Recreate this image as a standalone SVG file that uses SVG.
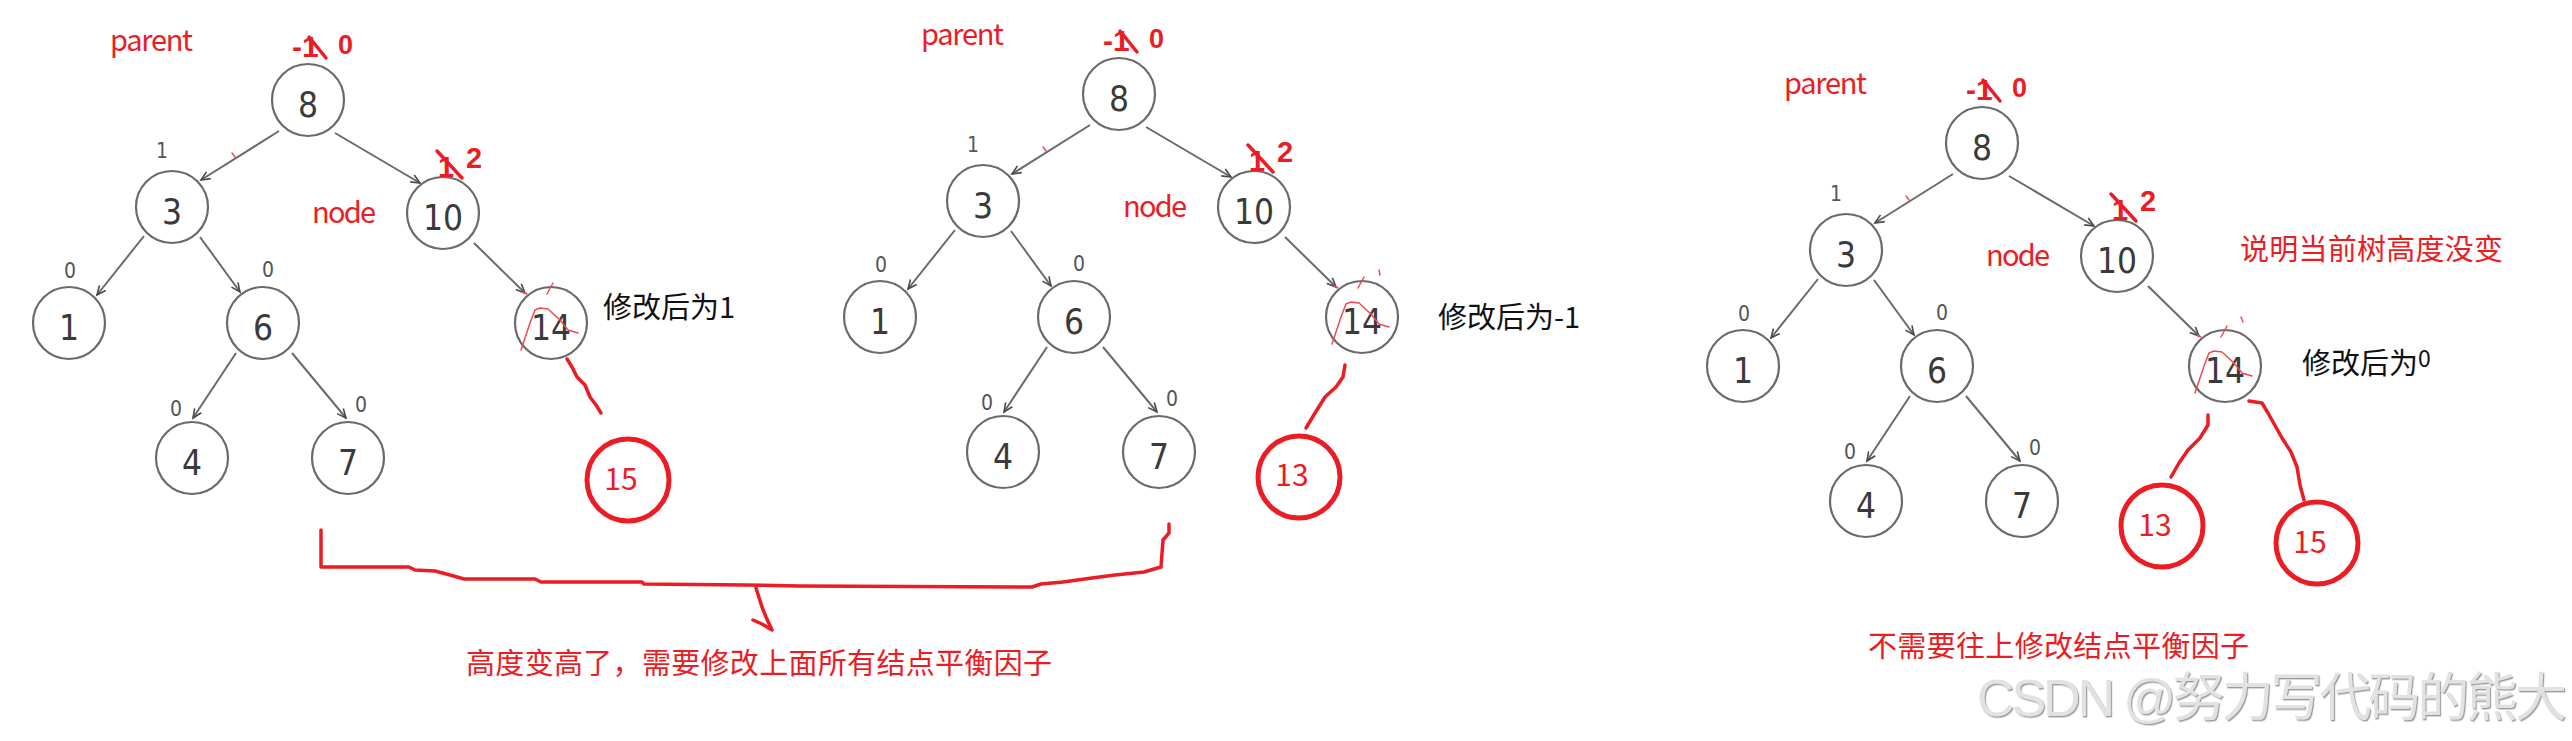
<svg xmlns="http://www.w3.org/2000/svg" width="2572" height="741" viewBox="0 0 2572 741">
<defs>
  <marker id="arr" markerWidth="12" markerHeight="12" refX="10" refY="5" orient="auto" markerUnits="userSpaceOnUse">
    <path d="M1,1 L10,5 L1,9" fill="none" stroke="#4a4a4a" stroke-width="1.6"/>
  </marker>
  <filter id="emb" x="-5%" y="-20%" width="110%" height="140%">
    <feDropShadow dx="1.2" dy="1.4" stdDeviation="0.7" flood-color="#9c9c9c"/>
  </filter>
</defs>
<style>
  .n circle{fill:#fff;stroke:#6a6a6a;stroke-width:2.2}
  .n text.v{font-family:"DejaVu Sans Condensed","DejaVu Sans",sans-serif;font-size:35px;fill:#3a3a3a;text-anchor:middle}
  .bf{font-family:"DejaVu Sans Condensed","DejaVu Sans",sans-serif;font-size:21px;fill:#555;text-anchor:middle}
  .edge{stroke:#6a6a6a;stroke-width:2;fill:none;marker-end:url(#arr)}
  .rn circle{fill:#fff;stroke:#ec1c24;stroke-width:5}
  .rn text{font-family:"Noto Sans CJK SC",sans-serif;font-size:30px;fill:#ec1c24;text-anchor:middle}
  .red{font-family:"Noto Sans CJK SC",sans-serif;fill:#ec1c24;font-size:29px}
  .lbl{font-family:"Noto Sans CJK SC",sans-serif;font-size:29px;fill:#111}
  .ink{fill:none;stroke:#ec1c24;stroke-width:3.5;stroke-linecap:round;stroke-linejoin:round}
  .thin{fill:none;stroke:#f04a50;stroke-width:1.5;stroke-linecap:round;stroke-linejoin:round}
  .hw{font-family:"Liberation Sans",sans-serif;font-weight:bold;fill:#ec1c24}
  .wm{font-family:"Liberation Sans","Noto Sans CJK SC",sans-serif;font-size:52px;fill:#e2e2e2}
</style>

<!-- ===== Tree 1 ===== -->
<g id="tree1">
  <text class="red" x="110" y="51" font-size="27" textLength="83">parent</text>
  <text class="red" x="312" y="223" font-size="27" textLength="64">node</text>
  <g id="t1-edges">
    <path class="edge" d="M279,131 L201,180"/>
    <path class="edge" d="M335,133 L420,183"/>
    <path class="edge" d="M144,236 L97,295"/>
    <path class="edge" d="M200,237 L240,292"/>
    <path class="edge" d="M474,243 L525,293"/>
    <path class="edge" d="M236,353 L193,418"/>
    <path class="edge" d="M292,353 L346,418"/>
  </g>
  <g id="t1-n8" class="n"><circle cx="308" cy="100" r="36"/><text class="v" x="308" y="117">8</text></g>
  <g id="t1-n3" class="n"><circle cx="172" cy="207" r="36"/><text class="v" x="172" y="224">3</text><text class="bf" x="162" y="158">1</text></g>
  <g id="t1-n10" class="n"><circle cx="443" cy="213" r="36"/><text class="v" x="443" y="230">10</text></g>
  <g id="t1-n1" class="n"><circle cx="69" cy="323" r="36"/><text class="v" x="69" y="340">1</text><text class="bf" x="70" y="278">0</text></g>
  <g id="t1-n6" class="n"><circle cx="263" cy="323" r="36"/><text class="v" x="263" y="340">6</text><text class="bf" x="268" y="277">0</text></g>
  <g id="t1-n14" class="n"><circle cx="551" cy="323" r="36"/><text class="v" x="551" y="340">14</text></g>
  <g id="t1-n4" class="n"><circle cx="192" cy="458" r="36"/><text class="v" x="192" y="475">4</text><text class="bf" x="176" y="416">0</text></g>
  <g id="t1-n7" class="n"><circle cx="348" cy="458" r="36"/><text class="v" x="348" y="475">7</text><text class="bf" x="361" y="412">0</text></g>
  <g id="t1-marks">
    <text class="hw" x="292" y="57" font-size="30">-1</text>
    <path class="ink" d="M309,37 L326,58"/>
    <text class="hw" x="338" y="54" font-size="27">0</text>
    <text class="hw" x="438" y="177" font-size="29">1</text>
    <path class="ink" d="M437,151 L462,178"/>
    <text class="hw" x="466" y="168" font-size="29">2</text>
    <path class="thin" d="M232,153 L235,157"/>
    <path class="thin" d="M521,350 L530,323 L535,310 L540,308 L548,309 L560,320 L568,330 L578,333"/>
    <path class="thin" d="M523,292 L527,294 M547,294 L553,283"/>
  </g>
  <path class="ink" d="M567,359 L572,367 L577,377 L585,385 L590,397 L596,405 L601,413"/>
  <g id="t1-n15" class="rn"><circle cx="628" cy="480" r="41"/><text x="621" y="490">15</text></g>
  <text class="lbl" x="603" y="318">修改后为1</text>
</g>

<!-- ===== Tree 2 ===== -->
<g id="tree2" transform="translate(811,-6)">
  <text class="red" x="110" y="51" font-size="27" textLength="83">parent</text>
  <text class="red" x="312" y="223" font-size="27" textLength="64">node</text>
  <g id="t2-edges">
    <path class="edge" d="M279,131 L201,180"/>
    <path class="edge" d="M335,133 L420,183"/>
    <path class="edge" d="M144,236 L97,295"/>
    <path class="edge" d="M200,237 L240,292"/>
    <path class="edge" d="M474,243 L525,293"/>
    <path class="edge" d="M236,353 L193,418"/>
    <path class="edge" d="M292,353 L346,418"/>
  </g>
  <g id="t2-n8" class="n"><circle cx="308" cy="100" r="36"/><text class="v" x="308" y="117">8</text></g>
  <g id="t2-n3" class="n"><circle cx="172" cy="207" r="36"/><text class="v" x="172" y="224">3</text><text class="bf" x="162" y="158">1</text></g>
  <g id="t2-n10" class="n"><circle cx="443" cy="213" r="36"/><text class="v" x="443" y="230">10</text></g>
  <g id="t2-n1" class="n"><circle cx="69" cy="323" r="36"/><text class="v" x="69" y="340">1</text><text class="bf" x="70" y="278">0</text></g>
  <g id="t2-n6" class="n"><circle cx="263" cy="323" r="36"/><text class="v" x="263" y="340">6</text><text class="bf" x="268" y="277">0</text></g>
  <g id="t2-n14" class="n"><circle cx="551" cy="323" r="36"/><text class="v" x="551" y="340">14</text></g>
  <g id="t2-n4" class="n"><circle cx="192" cy="458" r="36"/><text class="v" x="192" y="475">4</text><text class="bf" x="176" y="416">0</text></g>
  <g id="t2-n7" class="n"><circle cx="348" cy="458" r="36"/><text class="v" x="348" y="475">7</text><text class="bf" x="361" y="412">0</text></g>
  <g id="t2-marks">
    <text class="hw" x="292" y="57" font-size="30">-1</text>
    <path class="ink" d="M309,37 L326,58"/>
    <text class="hw" x="338" y="54" font-size="27">0</text>
    <text class="hw" x="438" y="177" font-size="29">1</text>
    <path class="ink" d="M437,151 L462,178"/>
    <text class="hw" x="466" y="168" font-size="29">2</text>
    <path class="thin" d="M232,153 L235,157"/>
    <path class="thin" d="M521,350 L530,323 L535,310 L540,308 L548,309 L560,320 L568,330 L578,333"/>
    <path class="thin" d="M523,292 L527,294 M547,294 L553,283 M568,276 L569,281"/>
  </g>
  <path class="ink" d="M534,371 L532,383 L525,393 L514,403 L504,419 L495,434"/>
  <g id="t2-n13" class="rn"><circle cx="488" cy="483" r="41"/><text x="481" y="492">13</text></g>
  <text class="lbl" x="627" y="334">修改后为-1</text>
</g>

<!-- ===== Tree 3 ===== -->
<g id="tree3" transform="translate(1674,43)">
  <text class="red" x="110" y="51" font-size="27" textLength="83">parent</text>
  <text class="red" x="312" y="223" font-size="27" textLength="64">node</text>
  <g id="t3-edges">
    <path class="edge" d="M279,131 L201,180"/>
    <path class="edge" d="M335,133 L420,183"/>
    <path class="edge" d="M144,236 L97,295"/>
    <path class="edge" d="M200,237 L240,292"/>
    <path class="edge" d="M474,243 L525,293"/>
    <path class="edge" d="M236,353 L193,418"/>
    <path class="edge" d="M292,353 L346,418"/>
  </g>
  <g id="t3-n8" class="n"><circle cx="308" cy="100" r="36"/><text class="v" x="308" y="117">8</text></g>
  <g id="t3-n3" class="n"><circle cx="172" cy="207" r="36"/><text class="v" x="172" y="224">3</text><text class="bf" x="162" y="158">1</text></g>
  <g id="t3-n10" class="n"><circle cx="443" cy="213" r="36"/><text class="v" x="443" y="230">10</text></g>
  <g id="t3-n1" class="n"><circle cx="69" cy="323" r="36"/><text class="v" x="69" y="340">1</text><text class="bf" x="70" y="278">0</text></g>
  <g id="t3-n6" class="n"><circle cx="263" cy="323" r="36"/><text class="v" x="263" y="340">6</text><text class="bf" x="268" y="277">0</text></g>
  <g id="t3-n14" class="n"><circle cx="551" cy="323" r="36"/><text class="v" x="551" y="340">14</text></g>
  <g id="t3-n4" class="n"><circle cx="192" cy="458" r="36"/><text class="v" x="192" y="475">4</text><text class="bf" x="176" y="416">0</text></g>
  <g id="t3-n7" class="n"><circle cx="348" cy="458" r="36"/><text class="v" x="348" y="475">7</text><text class="bf" x="361" y="412">0</text></g>
  <g id="t3-marks">
    <text class="hw" x="292" y="57" font-size="30">-1</text>
    <path class="ink" d="M309,37 L326,58"/>
    <text class="hw" x="338" y="54" font-size="27">0</text>
    <text class="hw" x="438" y="177" font-size="29">1</text>
    <path class="ink" d="M437,151 L462,178"/>
    <text class="hw" x="466" y="168" font-size="29">2</text>
    <path class="thin" d="M232,153 L235,157"/>
    <path class="thin" d="M521,350 L530,323 L535,310 L540,308 L548,309 L560,320 L568,330 L578,333"/>
    <path class="thin" d="M523,292 L527,294 M547,294 L553,283 M567,274 L569,279"/>
  </g>
  <path class="ink" d="M534,372 L534,382 L526,395 L514,407 L505,420 L497,434"/>
  <path class="ink" d="M575,358 L588,360 L594,370 L608,395 L617,409 L623,424 L626,442 L630,457"/>
  <g id="t3-n13" class="rn"><circle cx="488" cy="483" r="41"/><text x="481" y="493">13</text></g>
  <g id="t3-n15" class="rn"><circle cx="643" cy="500" r="41"/><text x="636" y="510">15</text></g>
  <text class="red" x="566" y="217" textLength="263">说明当前树高度没变</text>
  <text class="lbl" x="628" y="331">修改后为<tspan font-size="23" dy="-7">0</tspan></text>
</g>

<!-- ===== Bracket, arrow and notes ===== -->
<g id="notes">
  <path class="ink" stroke-width="4" d="M321,530 L321,567 L409,567 L415,570 L435,571 L450,575 L464,579 L535,579 L541,582 L642,582 L644,584 L745,585 L799,586 L1032,587 L1041,584 L1063,582 L1092,578 L1115,575 L1144,572 L1161,567 L1163,540 L1169,533 L1169,524"/>
  <path class="ink" stroke-width="3" d="M756,588 L762,607 L766,617 L772,630 M753,620 L762,624 L772,630"/>
  <text class="red" x="466" y="674" textLength="586">高度变高了，需要修改上面所有结点平衡因子</text>
  <text class="red" x="1868" y="657" textLength="381">不需要往上修改结点平衡因子</text>
</g>

<text class="wm" x="1977" y="716" textLength="590" filter="url(#emb)">CSDN @努力写代码的熊大</text>
</svg>
